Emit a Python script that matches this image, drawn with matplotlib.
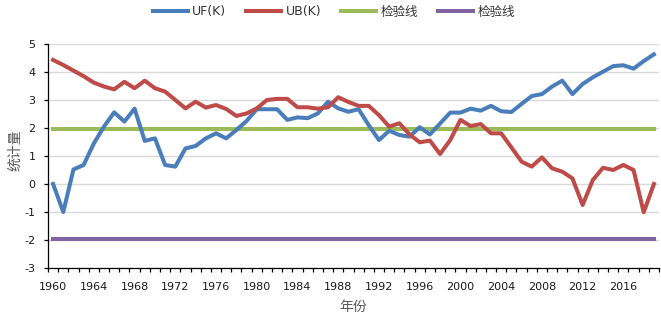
import matplotlib
matplotlib.use("Agg")
import matplotlib.pyplot as plt
from matplotlib.ticker import FixedLocator, FixedFormatter

years = list(range(1960, 2020))
uf = [0.0, -1.0, 0.52, 0.68, 1.45, 2.05, 2.56, 2.23, 2.69, 1.54,
      1.63, 0.68, 0.62, 1.27, 1.36, 1.63, 1.81, 1.63, 1.93, 2.25,
      2.67, 2.67, 2.67, 2.29, 2.38, 2.35, 2.52, 2.94, 2.70, 2.58,
      2.67, 2.10, 1.57, 1.90, 1.75, 1.69, 2.03, 1.77, 2.16, 2.55,
      2.55, 2.69, 2.62, 2.79, 2.60, 2.57, 2.86, 3.14, 3.21, 3.48,
      3.69, 3.21, 3.57, 3.81, 4.01, 4.21, 4.24, 4.12, 4.39, 4.63]
ub = [4.43, 4.25, 4.05, 3.85, 3.62, 3.48, 3.38, 3.65, 3.42, 3.69,
      3.42, 3.30, 3.00, 2.70, 2.94, 2.73, 2.82, 2.68, 2.43, 2.52,
      2.70, 3.00, 3.04, 3.04, 2.74, 2.74, 2.69, 2.74, 3.10, 2.93,
      2.79, 2.79, 2.46, 2.05, 2.17, 1.77, 1.49, 1.55, 1.07, 1.57,
      2.29, 2.07, 2.14, 1.81, 1.81, 1.31, 0.80, 0.62, 0.95, 0.56,
      0.44, 0.20, -0.75, 0.14, 0.58, 0.50, 0.68, 0.50, -1.01, 0.00]
crit_upper = 1.96
crit_lower = -1.96
series_names = ["UF(K)", "UB(K)", "检验线", "检验线"]
yticks = [-3, -2, -1, 0, 1, 2, 3, 4, 5]
label_years = list(range(1960, 2020, 4))

plt.rcParams['font.family'] = ['DejaVu Sans', 'Noto Sans CJK SC']

fig = plt.figure(figsize=(6.61, 3.18), dpi=100)
ax = fig.add_axes([48/661, 1-268/318, (659-48)/661, (268-44)/318])

x = list(range(len(years)))
lw = 2.9
ax.plot(x, uf, color='#4A7EBB', lw=lw, label=series_names[0], zorder=4)
ax.plot(x, ub, color='#BE4B48', lw=lw, label=series_names[1], zorder=4)
ax.plot(x, [crit_upper]*len(x), color='#9BBB59', lw=lw, label=series_names[2], zorder=3)
ax.plot(x, [crit_lower]*len(x), color='#8064A2', lw=lw, label=series_names[3], zorder=3)

ax.set_xlim(-0.5, len(years)-0.5)
ax.set_ylim(-3, 5)
ax.set_yticks(yticks)
ax.set_yticklabels([str(v) for v in yticks])
ax.yaxis.grid(True, color='#D9D9D9', lw=1.0)
ax.set_axisbelow(True)

major_pos = [years.index(y) for y in label_years]
ax.xaxis.set_major_locator(FixedLocator(major_pos))
ax.xaxis.set_major_formatter(FixedFormatter([str(y) for y in label_years]))
ax.xaxis.set_minor_locator(FixedLocator([i - 0.5 for i in range(len(years)+1)]))
ax.tick_params(axis='x', which='major', length=0, pad=10, labelsize=8, labelcolor='#1a1a1a')
ax.tick_params(axis='x', which='minor', length=3, width=0.9, direction='out', color='#000000')
ax.tick_params(axis='y', which='major', length=3, width=0.9, direction='out', labelsize=8, pad=6, labelcolor='#1a1a1a')

for s in ['top', 'right']:
    ax.spines[s].set_visible(False)
ax.spines['left'].set_color('#000000')
ax.spines['bottom'].set_color('#000000')
ax.spines['left'].set_linewidth(0.9)
ax.spines['bottom'].set_linewidth(0.9)

fig.text(353/661, 1-307/318, "年份", ha='center', va='center', fontsize=10,
         color='#595959', family=['Noto Sans CJK SC', 'DejaVu Sans'])
fig.text(15/661, 1-150/318, "统计量", ha='center', va='center', fontsize=10,
         rotation=90, color='#595959', family=['Noto Sans CJK SC', 'DejaVu Sans'])

leg = fig.legend(loc='center', bbox_to_anchor=(0.505, 1-12/318), ncol=4, frameon=False,
                 handlelength=2.8, handletextpad=0.35, columnspacing=1.6,
                 prop={'family': ['DejaVu Sans', 'Noto Sans CJK SC'], 'size': 9})
for t in leg.get_texts():
    t.set_color('#333333')

fig.savefig("out.png", dpi=100)
